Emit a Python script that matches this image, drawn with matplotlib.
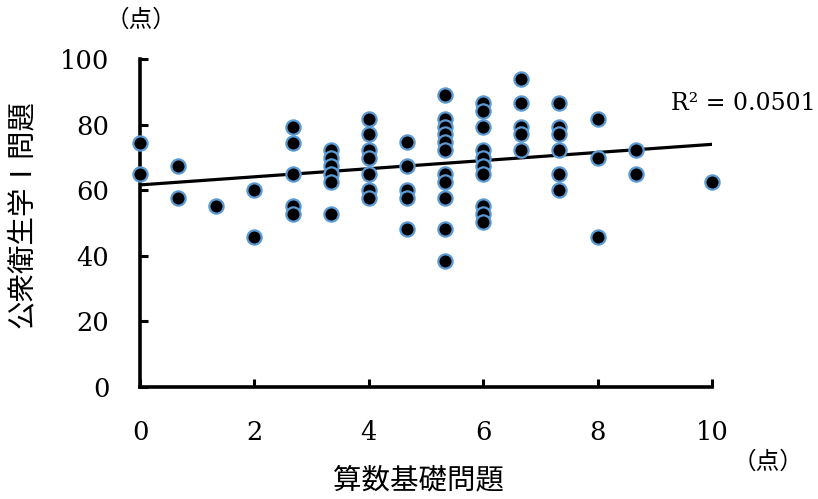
import numpy as np
import matplotlib
matplotlib.use("Agg")
import matplotlib.pyplot as plt

# ---- data ----
arith_scores = (
    [0.0] * 2 + [0.667] * 2 + [1.333] * 1 + [2.0] * 2 + [2.667] * 5 +
    [3.333] * 6 + [4.0] * 7 + [4.667] * 5 + [5.333] * 11 + [6.0] * 10 +
    [6.667] * 5 + [7.333] * 6 + [8.0] * 3 + [8.667] * 2 + [10.0] * 1
)
health_scores = [
    74.5, 64.9,
    67.4, 57.7,
    55.3,
    60.1, 45.6,
    79.4, 74.5, 64.9, 55.3, 52.8,
    72.3, 69.9, 67.4, 64.9, 62.5, 52.8,
    81.7, 77.1, 72.3, 69.7, 64.9, 60.1, 57.7,
    74.7, 67.4, 60.1, 57.7, 48.2,
    88.9, 81.7, 79.4, 77.1, 74.7, 72.3, 64.9, 62.5, 57.7, 48.2, 38.5,
    86.5, 84.1, 79.4, 72.3, 69.7, 67.4, 64.9, 55.3, 52.8, 50.4,
    93.8, 86.5, 79.4, 77.1, 72.3,
    86.5, 79.4, 77.1, 72.3, 64.9, 60.1,
    81.7, 69.7, 45.6,
    72.3, 64.9,
    62.5,
]
x_ticks = [0, 2, 4, 6, 8, 10]
y_ticks = [0, 20, 40, 60, 80, 100]
r2_label = "R² = 0.0501"
x_label = "算数基礎問題"
y_label = "公衆衛生学Ⅰ問題"
unit_label = "（点）"

x = np.array(arith_scores)
y = np.array(health_scores)
slope, intercept = np.polyfit(x, y, 1)

num_font = "DejaVu Serif"
jp_font = ["Noto Sans CJK JP", "DejaVu Sans"]

fig = plt.figure(figsize=(8.18, 4.99), dpi=100)
ax = fig.add_axes([140 / 818, 112 / 499, 572 / 818, 328 / 499])

ax.scatter(x, y, s=105, facecolor="black", edgecolor="#5b9bd5",
           linewidth=1.6, zorder=5, clip_on=False)
xl = np.array([0, 10])
ax.plot(xl, slope * xl + intercept, color="black", lw=2.3, zorder=4)

ax.set_xlim(0, 10)
ax.set_ylim(0, 100)
ax.set_xticks(x_ticks)
ax.set_yticks(y_ticks)
for s in ["top", "right"]:
    ax.spines[s].set_visible(False)
for s in ["left", "bottom"]:
    ax.spines[s].set_linewidth(2.6)
    ax.spines[s].set_color("black")
ax.tick_params(direction="in", length=6, width=2.2, colors="black")
ax.tick_params(axis="x", pad=24)
ax.tick_params(axis="y", pad=22)
for lab in ax.get_xticklabels() + ax.get_yticklabels():
    lab.set_fontfamily(num_font)
    lab.set_fontsize(18.5)

fig.text(816 / 818, 1 - 103 / 499, r2_label, fontsize=17, family=num_font,
         ha="right", va="center")

fig.text(22 / 818, 1 - 214 / 499, y_label, rotation=90, fontsize=20.5,
         family=jp_font, ha="center", va="center")
fig.text(418 / 818, 1 - 480 / 499, x_label, fontsize=20.5,
         family=jp_font, ha="center", va="center")
fig.text(141 / 818, 1 - 20 / 499, unit_label, fontsize=17,
         family=jp_font, ha="center", va="center")
fig.text(768 / 818, 1 - 462 / 499, unit_label, fontsize=17,
         family=jp_font, ha="center", va="center")

fig.savefig("out.png", dpi=100)
